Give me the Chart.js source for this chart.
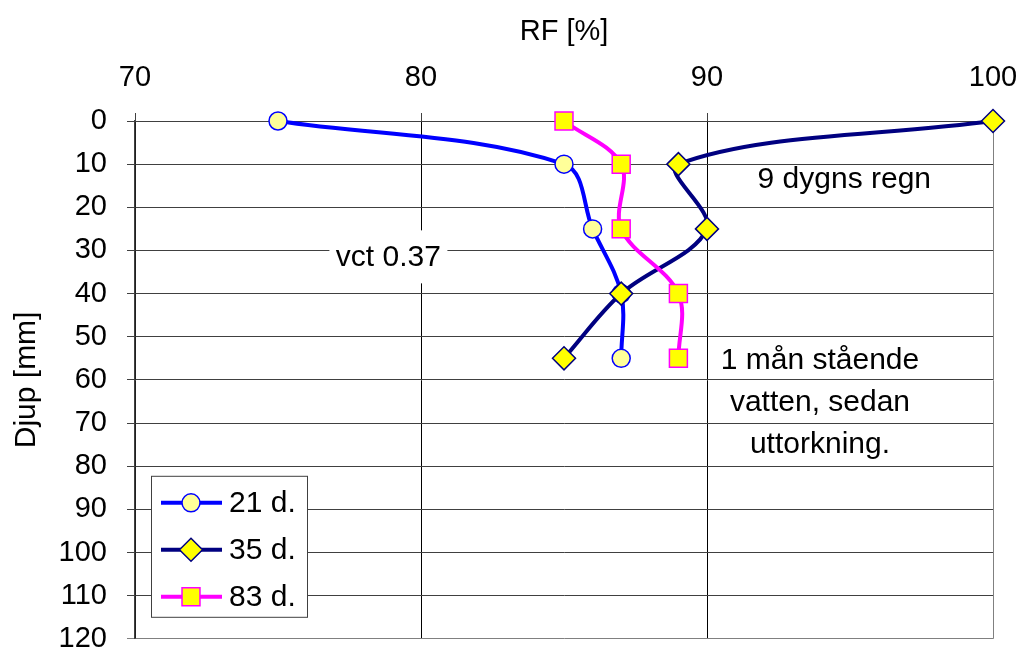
<!DOCTYPE html>
<html>
<head>
<meta charset="utf-8">
<title>RF Djup</title>
<script src="https://cdn.jsdelivr.net/npm/chart.js@4"></script>
<style>
  body { margin: 0; background: #fff; }
  canvas { display: block; }
</style>
</head>
<body>
<canvas id="grafico" width="1023" height="653"></canvas>
<script>
// data
const djup = [0, 10, 25, 40, 55];
const rf21 = [75, 85, 86, 87, 87];
const rf35 = [100, 89, 90, 87, 85];
const rf83 = [85, 87, 87, 89, 89];
const serieNamn = ["21 d.", "35 d.", "83 d."];
const anteckningar = ["vct 0.37", "9 dygns regn", "1 mån stående", "vatten, sedan", "uttorkning."];

const FONT = "'Liberation Sans', Arial, sans-serif";

function punkter(rf) {
  return djup.map((d, i) => ({ x: rf[i], y: d }));
}

// own marker drawing (used by the legend)
function ritaMarkor(ctx, ds, x, y) {
  ctx.save();
  ctx.fillStyle = ds.pointBackgroundColor;
  ctx.strokeStyle = ds.pointBorderColor;
  ctx.lineWidth = ds.pointBorderWidth;
  const r = ds.pointRadius;
  ctx.beginPath();
  if (ds.pointStyle === "circle") {
    ctx.arc(x, y, r, 0, Math.PI * 2);
  } else if (ds.pointStyle === "rectRot") {
    ctx.moveTo(x - r, y); ctx.lineTo(x, y - r); ctx.lineTo(x + r, y); ctx.lineTo(x, y + r);
    ctx.closePath();
  } else {
    const s = r * Math.SQRT1_2;
    ctx.rect(x - s, y - s, 2 * s, 2 * s);
  }
  ctx.fill();
  ctx.stroke();
  ctx.restore();
}

// text boxes in the plot
const textPlugin = {
  id: "texter",
  beforeDatasetsDraw(chart) {
    const { ctx, scales: { x, y } } = chart;
    ctx.save();
    ctx.font = "30px " + FONT;
    ctx.textAlign = "center";
    ctx.textBaseline = "middle";

    // vct 0.37 with white background
    let px = x.getPixelForValue(78.86), py = y.getPixelForValue(31.6);
    ctx.fillStyle = "#fff";
    ctx.fillRect(px - 59, py - 27, 118, 53);
    ctx.fillStyle = "#000";
    ctx.fillText(anteckningar[0], px, py);

    px = x.getPixelForValue(94.8); py = y.getPixelForValue(13.6);
    ctx.fillText(anteckningar[1], px, py);

    px = x.getPixelForValue(93.95);
    py = y.getPixelForValue(55.5);
    ctx.fillText(anteckningar[2], px, py);
    ctx.fillText(anteckningar[3], px, py + 42);
    ctx.fillText(anteckningar[4], px, py + 84);
    ctx.restore();
  }
};

// legend box inside the plot, lower left
const legendPlugin = {
  id: "legend",
  afterDatasetsDraw(chart) {
    const { ctx, chartArea } = chart;
    const bx = chartArea.left + 16, by = chartArea.bottom - 163;
    ctx.save();
    ctx.fillStyle = "#fff";
    ctx.fillRect(bx, by, 156, 141);
    ctx.strokeStyle = "#404040";
    ctx.lineWidth = 1;
    ctx.strokeRect(bx + 0.5, by + 0.5, 156, 141);
    ctx.font = "30px " + FONT;
    ctx.textBaseline = "middle";
    chart.data.datasets.forEach((ds, i) => {
      const ly = by + 27 + i * 47;
      ctx.strokeStyle = ds.borderColor;
      ctx.lineWidth = ds.borderWidth;
      ctx.beginPath();
      ctx.moveTo(bx + 10, ly);
      ctx.lineTo(bx + 71, ly);
      ctx.stroke();
      ritaMarkor(ctx, ds, bx + 40, ly);
      ctx.fillStyle = "#000";
      ctx.fillText(ds.label, bx + 78, ly + 1);
    });
    ctx.restore();
  }
};

const ctx = document.getElementById("grafico").getContext("2d");

new Chart(ctx, {
  type: "line",
  data: {
    datasets: [
      {
        label: serieNamn[0],
        data: punkter(rf21),
        borderColor: "#0000FF",
        borderWidth: 4,
        pointStyle: "circle",
        pointRadius: 9,
        pointBackgroundColor: "#FFFF99",
        pointBorderColor: "#0000FF",
        pointBorderWidth: 1.5,
        order: 3
      },
      {
        label: serieNamn[1],
        data: punkter(rf35),
        borderColor: "#000080",
        borderWidth: 4,
        pointStyle: "rectRot",
        pointRadius: 11.5,
        pointBackgroundColor: "#FFFF00",
        pointBorderColor: "#000080",
        pointBorderWidth: 1.5,
        order: 2
      },
      {
        label: serieNamn[2],
        data: punkter(rf83),
        borderColor: "#FF00FF",
        borderWidth: 4,
        pointStyle: "rect",
        pointRadius: 12.7,
        pointBackgroundColor: "#FFFF00",
        pointBorderColor: "#FF00FF",
        pointBorderWidth: 1.5,
        order: 1
      }
    ]
  },
  options: {
    responsive: false,
    animation: false,
    layout: { padding: { left: 0, top: 0, right: 30, bottom: 14 } },
    elements: {
      line: { tension: 0.35, fill: false, capBezierPoints: false }
    },
    datasets: { line: { clip: false, showLine: true } },
    plugins: {
      legend: { display: false },
      tooltip: { enabled: false }
    },
    scales: {
      x: {
        type: "linear",
        position: "top",
        min: 70,
        max: 100,
        ticks: {
          stepSize: 10,
          color: "#000",
          padding: 18,
          font: { family: FONT, size: 29 }
        },
        grid: {
          color: c => (c.tick && c.tick.value === 100 ? "#808080" : "#000000"),
          tickColor: "#404040",
          tickLength: 8,
          lineWidth: 1
        },
        border: { display: true, color: "#404040" },
        title: {
          display: true,
          text: "RF [%]",
          color: "#000",
          padding: { top: 15, bottom: 0 },
          font: { family: FONT, size: 29 }
        },
        afterFit(scale) {
          scale.height = 121;
          scale.paddingLeft = 0;
          scale.paddingRight = 0;
        }
      },
      y: {
        type: "linear",
        reverse: true,
        min: 0,
        max: 120,
        ticks: {
          stepSize: 10,
          color: "#000",
          padding: 20,
          font: { family: FONT, size: 29 }
        },
        grid: {
          color: c => (c.tick && c.tick.value === 120 ? "#808080" : "#404040"),
          tickColor: c => (c.tick && c.tick.value === 120 ? "#808080" : "#404040"),
          tickLength: 8,
          lineWidth: 1
        },
        border: { display: true, color: "#404040", width: 1.5 },
        title: {
          display: true,
          text: "Djup [mm]",
          color: "#000",
          padding: { top: 9, bottom: 0 },
          font: { family: FONT, size: 30 }
        },
        afterFit(scale) {
          scale.width = 135;
          scale.paddingTop = 0;
          scale.paddingBottom = 0;
        }
      }
    }
  },
  plugins: [textPlugin, legendPlugin]
});
</script>
</body>
</html>
